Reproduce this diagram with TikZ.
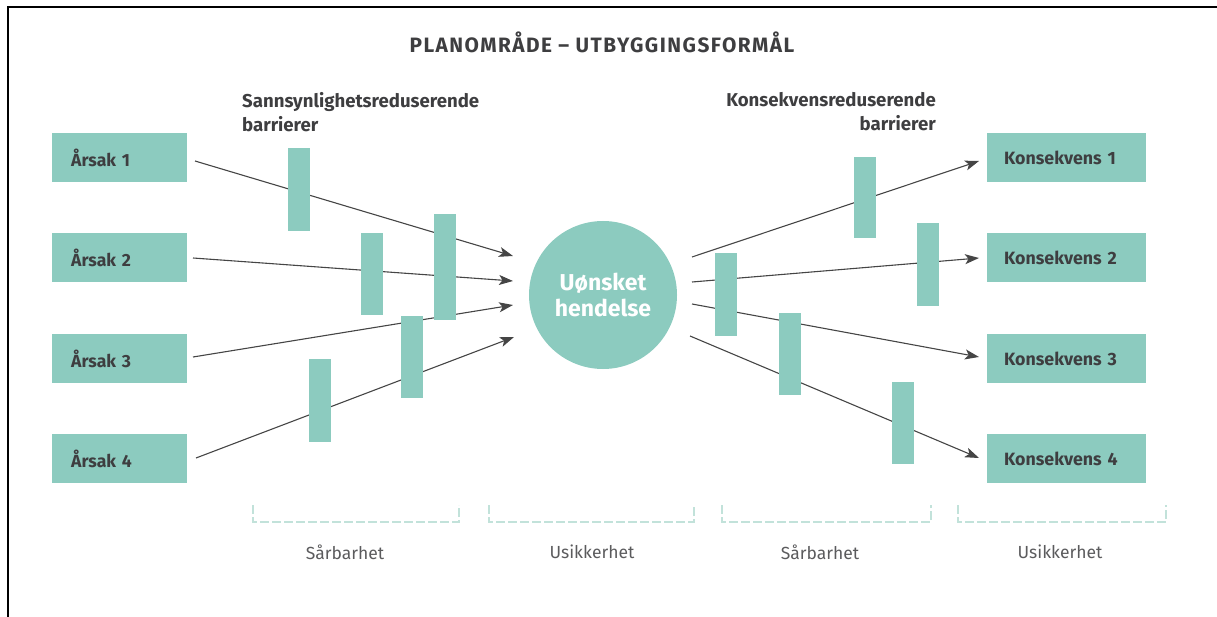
\documentclass[tikz,border=0pt]{standalone}
\usepackage{fontspec}
\setmainfont{Fira Sans}
\usetikzlibrary{arrows.meta}
\definecolor{teal}{HTML}{8CCBBF}
\definecolor{txt}{HTML}{3E3E40}
\definecolor{arr}{HTML}{454545}
\definecolor{dash}{HTML}{C2E2DA}
\tikzset{
  cause/.style={fill=teal, draw=none, minimum height=49pt, text width=97pt, inner xsep=19pt, align=left, font=\fontsize{17.6}{20}\selectfont\bfseries, text=txt, anchor=west},
  conseq/.style={fill=teal, draw=none, minimum height=49pt, text width=125pt, inner xsep=17pt, align=left, font=\fontsize{17.8}{20}\selectfont\bfseries, text=txt, anchor=west},
  barrier/.style={fill=teal, draw=none, minimum width=22pt, inner sep=0pt},
  link/.style={draw=arr, line width=1.1pt, -{Stealth[length=14pt, width=10pt, inset=3.5pt]}},
  header/.style={font=\fontsize{18.6}{24}\selectfont\bfseries, text=txt, inner sep=0pt},
  bracket/.style={draw=dash, line width=1.2pt, dash pattern=on 9pt off 3pt},
  bottomlabel/.style={font=\fontsize{17.5}{20}\selectfont, text=txt!85, inner sep=0pt}
}
\begin{document}
\begin{tikzpicture}[x=1pt, y=-1pt]
\useasboundingbox (0,0) rectangle (1217,617);
% frame
\draw[line width=2pt, black] (8,617) -- (8,7) -- (1217,7);
% title
\node[font=\fontsize{20.8}{24}\selectfont\bfseries, text=txt, inner sep=0pt] (title) at (602,42) {\addfontfeatures{LetterSpace=7}PLANOMRÅDE – UTBYGGINGSFORMÅL};
% headers
\node[header, anchor=north west, align=left] (hl) at (242,92) {Sannsynlighetsreduserende\\barrierer};
\node[header, anchor=north east, align=right] (hr) at (936,92) {Konsekvensreduserende\\barrierer};
% causes
\node[cause] (a1) at (52,157.5) {Årsak 1};
\node[cause] (a2) at (52,258) {Årsak 2};
\node[cause] (a3) at (52,358.5) {Årsak 3};
\node[cause] (a4) at (52,458.5) {Årsak 4};
% consequences
\node[conseq] (k1) at (987,157.5) {Konsekvens 1};
\node[conseq] (k2) at (987,258) {Konsekvens 2};
\node[conseq] (k3) at (987,358.5) {Konsekvens 3};
\node[conseq] (k4) at (987,458.5) {Konsekvens 4};
% event
\node[circle, fill=teal, minimum size=148pt, inner sep=0pt, align=center, text=white, font=\fontsize{23}{26}\selectfont\bfseries] (ev) at (603,295) {Uønsket\\hendelse};
% connector end points
\coordinate (s1) at (195,161); \coordinate (e1) at (513,256);
\coordinate (s2) at (193,258); \coordinate (e2) at (513,281);
\coordinate (s3) at (193,357); \coordinate (e3) at (513,305);
\coordinate (s4) at (196,458); \coordinate (e4) at (514,337);
\coordinate (t1) at (692,257); \coordinate (u1) at (979,161);
\coordinate (t2) at (692,282); \coordinate (u2) at (979,258);
\coordinate (t3) at (692,304); \coordinate (u3) at (979,357);
\coordinate (t4) at (690,336); \coordinate (u4) at (979,458);
\draw[link] (s1) -- (e1);
\draw[link] (s2) -- (e2);
\draw[link] (s3) -- (e3);
\draw[link] (s4) -- (e4);
\draw[link] (t1) -- (u1);
\draw[link] (t2) -- (u2);
\draw[link] (t3) -- (u3);
\draw[link] (t4) -- (u4);
% barriers (left)
\node[barrier, minimum height=83pt] (b1) at (299,189.5) {};
\node[barrier, minimum height=82pt] (b2) at (371.5,274) {};
\node[barrier, minimum height=106pt] (b3) at (445,267) {};
\node[barrier, minimum height=82pt] (b4) at (412,357) {};
\node[barrier, minimum height=83pt] (b5) at (320,400.5) {};
% barriers (right)
\node[barrier, minimum height=81pt] (r1) at (865,197.5) {};
\node[barrier, minimum height=83pt] (r2) at (726,294.5) {};
\node[barrier, minimum height=83pt] (r3) at (928,264.5) {};
\node[barrier, minimum height=82pt] (r4) at (790,354) {};
\node[barrier, minimum height=82pt] (r5) at (902.5,423) {};
% brackets
\draw[bracket] (253,505) -- (253,522) -- (459,522) -- (459,505);
\draw[bracket] (489,505) -- (489,522) -- (694,522) -- (694,505);
\draw[bracket] (722,505) -- (722,522) -- (931,522) -- (931,505);
\draw[bracket] (958,505) -- (958,522) -- (1166,522) -- (1166,505);
\node[bottomlabel] (l1) at (345,552) {Sårbarhet};
\node[bottomlabel] (l2) at (592,552) {Usikkerhet};
\node[bottomlabel] (l3) at (820,552) {Sårbarhet};
\node[bottomlabel] (l4) at (1060,552) {Usikkerhet};
\end{tikzpicture}
\end{document}
